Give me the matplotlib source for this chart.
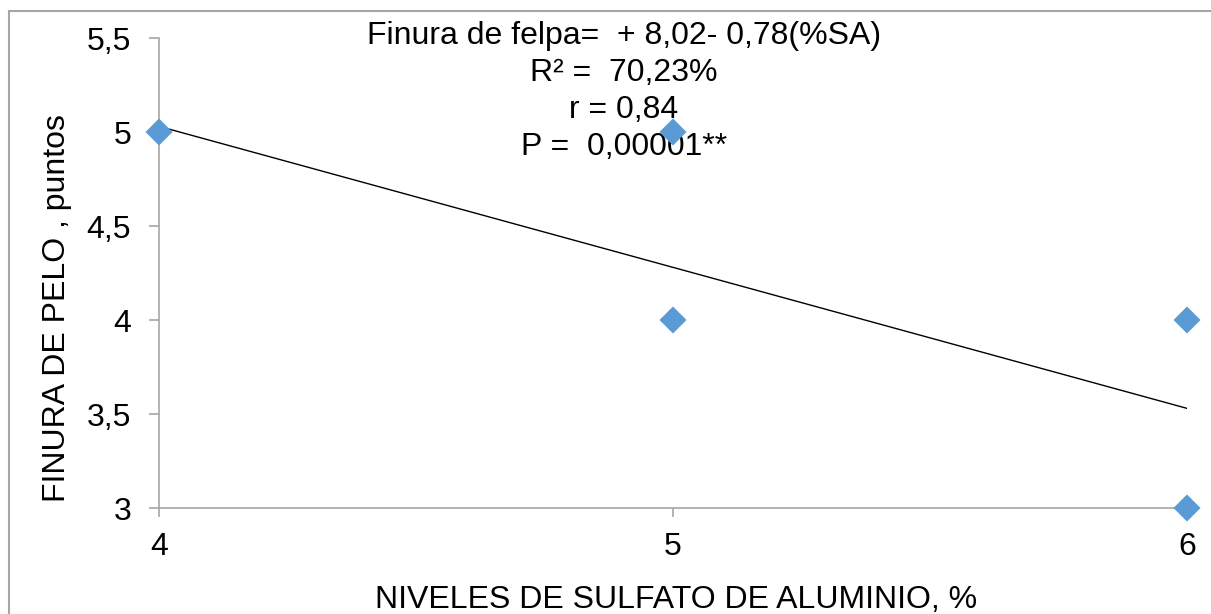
import matplotlib
matplotlib.use("Agg")
import matplotlib.pyplot as plt
from matplotlib.lines import Line2D

# Data
x_vals = [4, 5, 5, 6, 6]
y_vals = [5, 5, 4, 4, 3]
trend_x = [4, 6]
trend_y = [5.03, 3.53]
x_ticks = [4, 5, 6]
y_ticks = [3, 3.5, 4, 4.5, 5, 5.5]
y_tick_labels = ["3", "3,5", "4", "4,5", "5", "5,5"]
annotation_lines = ["Finura de felpa=  + 8,02- 0,78(%SA)", "R² =  70,23%", "r = 0,84", "P =  0,00001**"]
x_label = "NIVELES DE SULFATO DE ALUMINIO, %"
y_label = "FINURA DE PELO , puntos"

plt.rcParams['font.family'] = ['Liberation Sans', 'DejaVu Sans']

W, H = 1211, 614
fig = plt.figure(figsize=(W / 100, H / 100), dpi=100)
ax = fig.add_axes([159 / W, 1 - 508 / H, (1187 - 159) / W, (508 - 38) / H])

grey = '#a6a6a6'
FS = 23
ax.plot(trend_x, trend_y, color='black', lw=1.0, zorder=2)
ax.scatter(x_vals, y_vals, marker='D', s=190, color='#5b9bd5', edgecolors='none', zorder=4, clip_on=False)

ax.set_xlim(4, 6)
ax.set_ylim(3, 5.5)
ax.set_xticks(x_ticks)
ax.set_xticklabels([str(v) for v in x_ticks])
ax.set_yticks(y_ticks)
ax.set_yticklabels(y_tick_labels)
ax.tick_params(axis='both', labelsize=FS, colors=grey, labelcolor='black', width=1.2, direction='out')
ax.tick_params(axis='x', length=6.5, pad=11)
ax.tick_params(axis='y', length=7, pad=13)

for s in ['top', 'right']:
    ax.spines[s].set_visible(False)
for s in ['left', 'bottom']:
    ax.spines[s].set_color(grey)
    ax.spines[s].set_linewidth(1.2)

fig.text(676 / W, 1 - 608 / H, x_label, ha='center', va='baseline', fontsize=FS)
fig.text(57 / W, 1 - 308 / H, y_label, ha='center', va='center', rotation=90, fontsize=FS)

baselines = [44, 81, 118, 155]
for line, yb in zip(annotation_lines, baselines):
    ax.text(624 / W, 1 - yb / H, line, ha='center', va='baseline', fontsize=FS,
            transform=fig.transFigure, zorder=3, clip_on=False)

# outer chart frame
fig.add_artist(Line2D([8.5 / W, 1.0], [1 - 10.5 / H, 1 - 10.5 / H], color=grey, lw=1.5, transform=fig.transFigure))
fig.add_artist(Line2D([8.5 / W, 8.5 / W], [1 - 10.5 / H, 0], color=grey, lw=1.5, transform=fig.transFigure))

fig.savefig("out.png", dpi=100)
